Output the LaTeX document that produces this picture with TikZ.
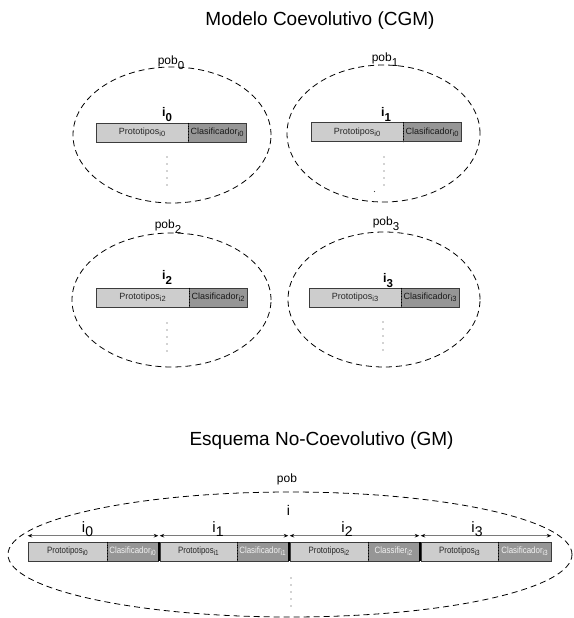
\documentclass[tikz,border=0pt]{standalone}
\usepackage{fontspec}
\setmainfont{Liberation Sans}
\newfontfamily\narrowfont[FakeStretch=0.86]{Liberation Sans}
\usetikzlibrary{shapes.geometric,arrows.meta}

\definecolor{protofill}{HTML}{CDCDCD}
\definecolor{clasfill}{HTML}{969696}
\definecolor{barline}{HTML}{3C3C3C}
\definecolor{spanline}{HTML}{7A7A7A}

% lowered index: size, drop, text
\newcommand{\lsub}[3]{\raisebox{-#2}{\fontsize{#1}{#1}\selectfont #3}}

\begin{document}
\begin{tikzpicture}[x=1pt,y=-1pt,
  pop/.style={ellipse, draw, dash pattern=on 6pt off 4pt, line width=0.8pt, inner sep=0pt},
  cell/.style={rectangle, draw=barline, line width=0.6pt, inner sep=0pt, minimum height=19pt},
  protocell/.style={cell, fill=protofill, text=black!85},
  clascell/.style={cell, fill=clasfill, text=black!90},
  lowclas/.style={cell, fill=clasfill, text=white!95!black},
  toptxt/.style={font=\fontsize{9}{10}\selectfont},
  lowtxt/.style={font=\narrowfont\fontsize{9.2}{10}\selectfont},
  divider/.style={line width=0.8pt, dotted},
  vdots/.style={line width=1.2pt, line cap=round, dash pattern=on 0pt off 7pt, black!75},
  indlabel/.style={anchor=base, inner sep=0pt, font=\bfseries\fontsize{12.5}{12}\selectfont},
  poplabel/.style={anchor=base, inner sep=0pt, font=\fontsize{12}{12}\selectfont},
  spanlabel/.style={anchor=base, inner sep=0pt, font=\fontsize{15}{15}\selectfont},
  span/.style={draw=spanline, line width=1.2pt,
    {Stealth[length=4.5pt,width=3.6pt,color=black]}-{Stealth[length=4.5pt,width=3.6pt,color=black]}},
  title/.style={anchor=base, inner sep=0pt, font=\fontsize{19}{19}\selectfont}
]
\useasboundingbox (0,0) rectangle (573,618);

% ---------- coevolutionary model ----------
\node[title] (t1) at (320,25.5) {Modelo Coevolutivo (CGM)};

\node[pop, minimum width=198pt, minimum height=136pt] (e0) at (172,135) {};
\node[pop, minimum width=193pt, minimum height=137pt] (e1) at (383.5,133.5) {};
\node[pop, minimum width=199pt, minimum height=134pt] (e2) at (171.5,300) {};
\node[pop, minimum width=192pt, minimum height=135pt] (e3) at (384,299.5) {};

\node[poplabel] (l0) at (171,65) {pob\lsub{11.5}{5pt}{0}};
\node[poplabel] (l1) at (385,62) {pob\lsub{11.5}{5pt}{1}};
\node[poplabel] (l2) at (168,228) {pob\lsub{11.5}{5pt}{2}};
\node[poplabel] (l3) at (386,225) {pob\lsub{11.5}{5pt}{3}};

\node[indlabel] (i0) at (167,116) {i\lsub{11.5}{5pt}{0}};
\node[indlabel] (i1) at (386,116) {i\lsub{11.5}{5pt}{1}};
\node[indlabel] (i2) at (167,279) {i\lsub{11.5}{5pt}{2}};
\node[indlabel] (i3) at (388,282) {i\lsub{11.5}{5pt}{3}};

% individuals of each population
\node[protocell, toptxt, minimum width=92pt] (p0) at (142,132.5) {Prototipos\lsub{7.5}{2pt}{i0}};
\node[clascell, toptxt, minimum width=58pt] (c0) at (217,132.5) {Clasificador\lsub{7.5}{2pt}{i0}};
\node[protocell, toptxt, minimum width=92pt] (p1) at (357,132) {Prototipos\lsub{7.5}{2pt}{i0}};
\node[clascell, toptxt, minimum width=58pt] (c1) at (432,132) {Clasificador\lsub{7.5}{2pt}{i0}};
\node[protocell, toptxt, minimum width=93pt] (p2) at (142.5,297.5) {Prototipos\lsub{7.5}{2pt}{i2}};
\node[clascell, toptxt, minimum width=58pt] (c2) at (218,297.5) {Clasificador\lsub{7.5}{2pt}{i2}};
\node[protocell, toptxt, minimum width=92pt] (p3) at (355,297.5) {Prototipos\lsub{7.5}{2pt}{i3}};
\node[clascell, toptxt, minimum width=58pt] (c3) at (430,297.5) {Clasificador\lsub{7.5}{2pt}{i3}};

\foreach \k in {0,1,2,3}
  \draw[divider] (p\k.north east) -- (p\k.south east);

\coordinate (d0) at (167,157);
\coordinate (d1) at (384,157);
\coordinate (d2) at (167,323);
\coordinate (d3) at (383,322);
\foreach \k in {0,1,2,3}
  \draw[vdots] (d\k) -- ++(0,29);
\fill[black!75] (374.5,191.5) circle (0.6pt);

% ---------- non-coevolutionary scheme ----------
\node[title] (t2) at (321.5,445) {Esquema No-Coevolutivo (GM)};

\node[pop, minimum width=564pt, minimum height=125pt] (eb) at (290,554.5) {};
\node[poplabel] (lb) at (287,482) {pob};
\node[spanlabel, font=\fontsize{14}{14}\selectfont] (ib) at (288.5,515) {i};

\node[protocell, lowtxt, minimum width=79pt] (q0) at (67.5,551.5) {Prototipos\lsub{7.5}{2pt}{i0}};
\node[lowclas, lowtxt, minimum width=51pt] (k0) at (132.5,551.5) {Clasificador\lsub{7.5}{2pt}{i0}};
\node[protocell, lowtxt, minimum width=77pt] (q1) at (198.5,551.5) {Prototipos\lsub{7.5}{2pt}{i1}};
\node[lowclas, lowtxt, minimum width=51pt] (k1) at (262.5,551.5) {Clasificador\lsub{7.5}{2pt}{i1}};
\node[protocell, lowtxt, minimum width=78pt] (q2) at (329,551.5) {Prototipos\lsub{7.5}{2pt}{i2}};
\node[lowclas, lowtxt, minimum width=51pt] (k2) at (393.5,551.5) {Classifier\lsub{7.5}{2pt}{i2}};
\node[protocell, lowtxt, minimum width=77pt] (q3) at (459.5,551.5) {Prototipos\lsub{7.5}{2pt}{i3}};
\node[lowclas, lowtxt, minimum width=53pt] (k3) at (524.5,551.5) {Clasificador\lsub{7.5}{2pt}{i3}};

\foreach \k in {0,1,2,3}
  \draw[divider] (q\k.north east) -- (q\k.south east);

% separators between consecutive individuals
\fill[black] (k0.north east) rectangle (q1.south west);
\fill[black] (k1.north east) rectangle (q2.south west);
\fill[black] (k2.north east) rectangle (q3.south west);

% extent of each individual
\foreach \k in {0,1,2,3}
  \draw[span] ([yshift=6pt]q\k.north west) -- ([yshift=6pt]k\k.north east);

\node[spanlabel] (s0) at (87.5,532) {i\lsub{14}{4pt}{0}};
\node[spanlabel] (s1) at (218,532) {i\lsub{14}{4pt}{1}};
\node[spanlabel] (s2) at (347,532) {i\lsub{14}{4pt}{2}};
\node[spanlabel] (s3) at (477,532) {i\lsub{14}{4pt}{3}};

\coordinate (db) at (291,578);
\draw[vdots] (db) -- ++(0,32);
\end{tikzpicture}
\end{document}
